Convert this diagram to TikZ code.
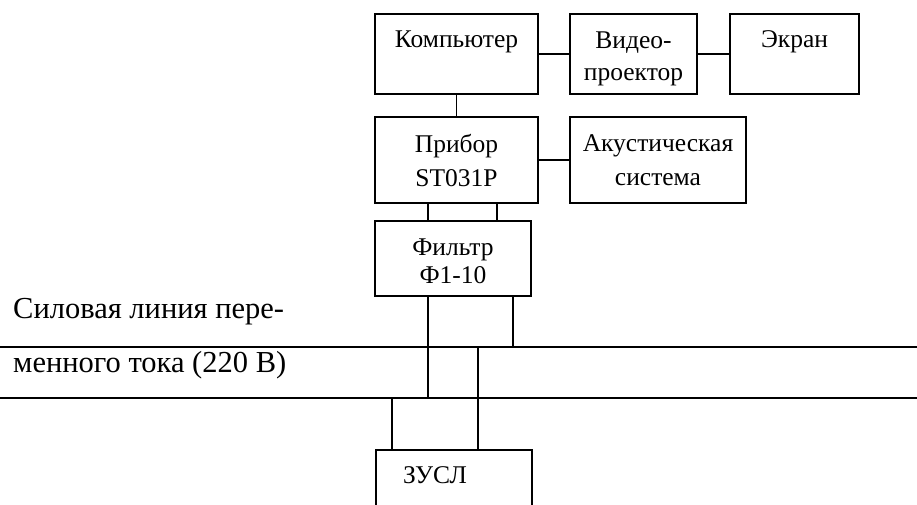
\documentclass[tikz,border=0pt]{standalone}
\usepackage{fontspec}
\setmainfont{Liberation Serif}
\usetikzlibrary{positioning}

\begin{document}
\begin{tikzpicture}[x=1pt,y=-1pt,
box/.style={draw,line width=1.6pt,align=center,inner sep=0pt,font=\fontsize{25.5}{34}\selectfont},
oneline/.style={text height=18pt,text depth=32pt},
wire/.style={line width=1.2pt},
label/.style={anchor=base west,inner sep=0pt,font=\fontsize{30.5}{36}\selectfont}]
\useasboundingbox (0,0) rectangle (917,504);
\node[box,oneline,minimum width=163pt,minimum height=80pt] (comp) at (456.5,54) {Компьютер};
\node[box,minimum width=127pt,minimum height=80pt,font=\fontsize{25.5}{32}\selectfont] (video) at (633.5,54) {\rule{0pt}{26pt}Видео-\\проектор};
\node[box,oneline,minimum width=129pt,minimum height=80pt] (screen) at (794.5,54) {Экран};
\node[box,minimum width=163pt,minimum height=86pt] (pribor) at (456.5,160) {Прибор\\ST031P};
\node[box,minimum width=176pt,minimum height=86pt] (acoustic) at (658,160) {Акустическая\\система};
\node[box,minimum width=156pt,minimum height=75pt,font=\fontsize{25.5}{28}\selectfont] (filter) at (453,258.5) {\rule{0pt}{23pt}Фильтр\\Ф1-10};
\node[box,oneline,minimum height=80pt,text width=156pt,align=left] (zusl) at (454,490) {\hspace*{27pt}ЗУСЛ};
\node[label] (line1) at (13,318) {Силовая линия пере-};
\node[label] (line2) at (13,372) {менного тока (220 В)};
% power line
\coordinate (topw) at (0,347); \coordinate (tope) at (917,347);
\coordinate (botw) at (0,398); \coordinate (bote) at (917,398);
\draw[wire] (topw) -- (tope); \draw[wire] (botw) -- (bote);
\coordinate (a) at (428,0); \coordinate (b) at (497,0); \coordinate (c) at (513,0);
\coordinate (d) at (478,0); \coordinate (e) at (392,0);
\draw[wire] (comp) -- (video); \draw[wire] (video) -- (screen);
\draw[wire] (comp) -- (pribor); \draw[wire] (pribor) -- (acoustic);
\draw[wire] (pribor.south -| a) -- (filter.north -| a);
\draw[wire] (pribor.south -| b) -- (filter.north -| b);
\draw[wire] (filter.south -| a) -- (botw -| a);
\draw[wire] (filter.south -| c) -- (topw -| c);
\draw[wire] (topw -| d) -- (zusl.north -| d);
\draw[wire] (botw -| e) -- (zusl.north -| e);
\end{tikzpicture}
\end{document}
